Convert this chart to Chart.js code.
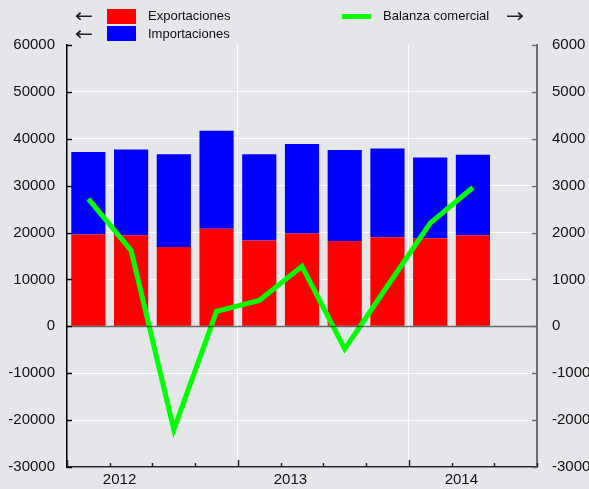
<!DOCTYPE html>
<html>
<head>
<meta charset="utf-8">
<script src="https://cdn.jsdelivr.net/npm/chart.js@4.4.1/dist/chart.umd.min.js"></script>
<style>
  html, body { margin: 0; padding: 0; background: #e5e6e9; }
  #wrap { position: relative; width: 589px; height: 489px; font-family: 'Liberation Sans', Arial, sans-serif; color: #111; }
  .lg { position: absolute; font-size: 13px; line-height: 16px; white-space: nowrap; }
  .ar { position: absolute; font-family: 'DejaVu Sans', sans-serif; font-size: 19px; line-height: 16px; color: #222; transform: scaleX(1.15); }
  .sw { position: absolute; }
</style>
</head>
<body>
<div id="wrap">
  <canvas id="chart"></canvas>
  <div class="ar" style="left:76px;top:7px;">&larr;</div>
  <div class="sw" style="left:107px;top:9px;width:29px;height:15px;background:#ff0000;"></div>
  <div class="lg" style="left:148px;top:8px;">Exportaciones</div>
  <div class="ar" style="left:76px;top:25px;">&larr;</div>
  <div class="sw" style="left:107px;top:26px;width:29px;height:15px;background:#0000ff;"></div>
  <div class="lg" style="left:148px;top:26px;">Importaciones</div>
  <div class="sw" style="left:342px;top:14px;width:29px;height:5px;background:#00ff00;"></div>
  <div class="lg" style="left:383px;top:8px;">Balanza comercial</div>
  <div class="ar" style="left:507px;top:7px;">&rarr;</div>
</div>
<script>
  // ── Data (quarterly, 2012 T1 .. 2014 T3; last quarter empty) ──
  var quarters = ['2012 T1', '2012 T2', '2012 T3', '2012 T4',
                  '2013 T1', '2013 T2', '2013 T3', '2013 T4',
                  '2014 T1', '2014 T2', '2014 T3'];
  var exportaciones = [19600, 19400, 16900, 20800, 18300, 19800, 18200, 19000, 18800, 19400, null];
  var importaciones = [17600, 18300, 19800, 20900, 18400, 19100, 19400, 18900, 17200, 17200, null];
  var balanza       = [2720, 1620, -2200, 320, 550, 1280, -480, 860, 2200, 2960, null];
  var years = ['2012', '2013', '2014'];
  var leftTicks = [-30000, -20000, -10000, 0, 10000, 20000, 30000, 40000, 50000, 60000];
  var rightTicks = [-3000, -2000, -1000, 0, 1000, 2000, 3000, 4000, 5000, 6000];

  var FONT = "'Liberation Sans', Arial, sans-serif";
  var tickFont = { family: FONT, size: 15 };

  // ── Axis decorations: inner ticks, zero line, year labels ──
  var axisDecor = {
    id: 'axisDecor',
    afterDatasetsDraw: function (chart) {
      var ctx = chart.ctx, a = chart.chartArea;
      var x = chart.scales.x, y = chart.scales.y, y2 = chart.scales.y2;
      ctx.save();

      // zero line over the bars
      var y0 = Math.round(y.getPixelForValue(0)) + 0.5;
      ctx.strokeStyle = 'rgba(0,0,0,0.55)';
      ctx.lineWidth = 1.5;
      ctx.beginPath(); ctx.moveTo(a.left, y0); ctx.lineTo(a.right, y0); ctx.stroke();

      // left ticks
      ctx.strokeStyle = '#000';
      ctx.lineWidth = 1.5;
      leftTicks.forEach(function (v) {
        var py = Math.round(y.getPixelForValue(v)) + 0.5;
        ctx.beginPath(); ctx.moveTo(a.left, py); ctx.lineTo(a.left + 5, py); ctx.stroke();
      });

      // right ticks
      ctx.strokeStyle = '#6e6e6e';
      rightTicks.forEach(function (v) {
        var py = Math.round(y2.getPixelForValue(v)) + 0.5;
        ctx.beginPath(); ctx.moveTo(a.right, py); ctx.lineTo(a.right - 5, py); ctx.stroke();
      });

      // bottom ticks at quarter boundaries, longer at year boundaries
      ctx.strokeStyle = '#222';
      for (var i = 0; i <= quarters.length; i++) {
        var px = Math.round(x.getPixelForValue(i - 0.5)) + 0.5;
        var len = (i % 4 === 0) ? 7 : 4;
        ctx.beginPath(); ctx.moveTo(px, a.bottom); ctx.lineTo(px, a.bottom - len); ctx.stroke();
      }

      // year labels
      ctx.fillStyle = '#111';
      ctx.font = '15px ' + FONT;
      ctx.textAlign = 'center';
      ctx.textBaseline = 'middle';
      years.forEach(function (yr, k) {
        ctx.fillText(yr, x.getPixelForValue(k * 4 + 0.73), a.bottom + 13);
      });

      ctx.restore();
    }
  };

  function plain(v) { return String(v); }

  new Chart(document.getElementById('chart'), {
    type: 'bar',
    data: {
      labels: quarters,
      datasets: [
        {
          type: 'line',
          label: 'Balanza comercial',
          data: balanza,
          yAxisID: 'y2',
          borderColor: '#00ff00',
          borderWidth: 5,
          tension: 0,
          pointRadius: 0,
          fill: false,
          order: 0
        },
        {
          label: 'Exportaciones',
          data: exportaciones,
          backgroundColor: '#ff0000',
          stack: 'trade',
          barPercentage: 0.8,
          categoryPercentage: 1,
          order: 1
        },
        {
          label: 'Importaciones',
          data: importaciones,
          backgroundColor: '#0000ff',
          stack: 'trade',
          barPercentage: 0.8,
          categoryPercentage: 1,
          order: 1
        }
      ]
    },
    options: {
      responsive: true,
      maintainAspectRatio: false,
      animation: false,
      layout: { padding: { top: 45, left: 0, right: 0, bottom: 0 } },
      plugins: { legend: { display: false }, tooltip: { enabled: false } },
      scales: {
        x: {
          stacked: true,
          offset: true,
          ticks: { display: false },
          grid: {
            offset: true,
            drawTicks: false,
            color: function (c) { return (c.index === 4 || c.index === 8) ? '#ffffff' : 'rgba(0,0,0,0)'; }
          },
          border: { color: '#222', width: 1.5 },
          afterFit: function (s) { s.height = 22; }
        },
        y: {
          stacked: true,
          position: 'left',
          min: -30000,
          max: 60000,
          ticks: { stepSize: 10000, font: tickFont, color: '#111', padding: 12, callback: plain },
          grid: {
            drawTicks: false,
            color: function (c) {
              var v = c.tick && c.tick.value;
              return (v === 0 || v === 60000) ? 'rgba(0,0,0,0)' : '#ffffff';
            }
          },
          border: { color: '#000', width: 1.5 },
          afterFit: function (s) { s.width = 67; }
        },
        y2: {
          position: 'right',
          min: -3000,
          max: 6000,
          ticks: { stepSize: 1000, font: tickFont, color: '#111', padding: 3, callback: plain },
          grid: {
            display: true,
            drawOnChartArea: false,
            drawTicks: true,
            tickLength: 12,
            tickColor: 'rgba(0,0,0,0)'
          },
          border: { color: '#6e6e6e', width: 2 },
          afterFit: function (s) { s.width = 52; }
        }
      }
    },
    plugins: [axisDecor]
  });
</script>
</body>
</html>
